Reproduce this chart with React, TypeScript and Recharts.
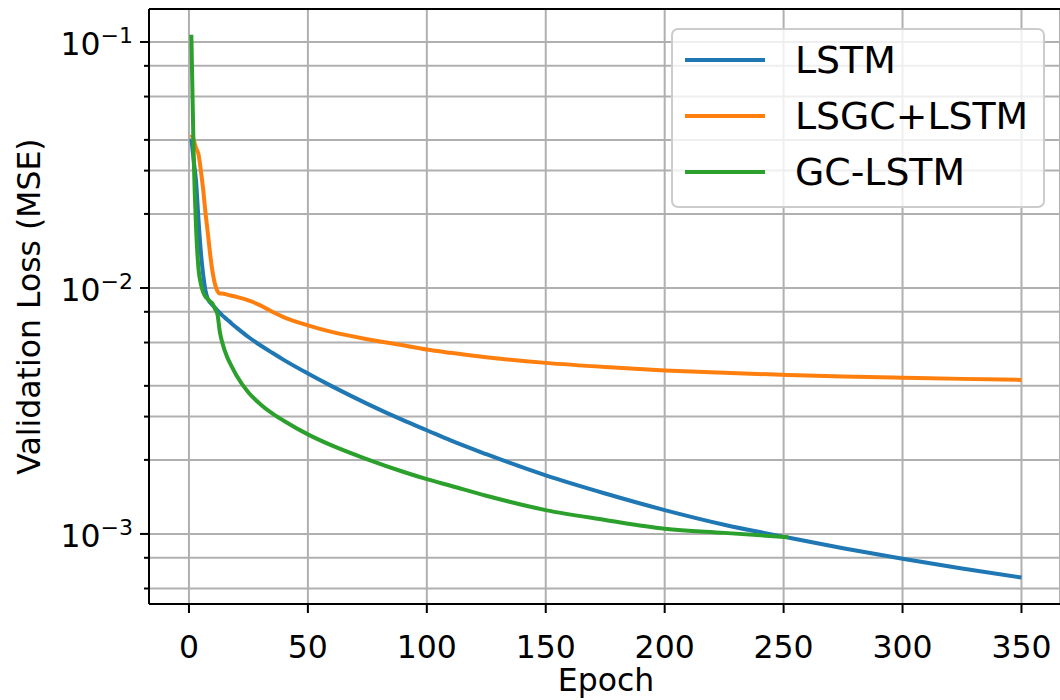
import { LineChart, Line, XAxis, YAxis, CartesianGrid, Legend, ReferenceLine } from "recharts";

const FONT = "DejaVu Sans";

// validation loss per epoch (log scale)
const epochs = [
  1, 2, 3, 4, 5, 6, 7, 8, 9, 10, 11, 12, 13, 14, 16, 18, 20, 25, 30, 35, 40, 50,
  60, 75, 90, 100, 110, 125, 150, 175, 200, 225, 252, 275, 300, 325, 350,
];
const lstmLoss = [
  0.0405, 0.033, 0.027, 0.019, 0.014, 0.0113, 0.0097, 0.009, 0.0087, 0.0085, 0.0083, 0.0081,
  0.00791, 0.00774, 0.00745, 0.00716, 0.0069, 0.00632, 0.00585, 0.00545, 0.00509, 0.00449,
  0.00399, 0.00338, 0.0029, 0.00264, 0.0024, 0.00211, 0.00173, 0.00146, 0.00125, 0.00109,
  0.000966, 0.000875, 0.000793, 0.000724, 0.000665,
];
const lsgcLoss = [
  0.042, 0.04, 0.037, 0.035, 0.03, 0.025, 0.02, 0.0165, 0.0135, 0.0115, 0.0103, 0.0097,
  0.0095, 0.0095, 0.0094, 0.0093, 0.0092, 0.0089, 0.0085, 0.008, 0.0076, 0.00705, 0.00663,
  0.00619, 0.00585, 0.00562, 0.00545, 0.00523, 0.00496, 0.00477, 0.00462, 0.00452, 0.00443,
  0.00437, 0.00432, 0.00427, 0.00423,
];
const gcLstmLoss = [
  0.107, 0.034, 0.0175, 0.012, 0.0104, 0.0096, 0.0092, 0.009, 0.0088, 0.0086, 0.0082, 0.0078,
  0.00661, 0.006, 0.00525, 0.00479, 0.00441, 0.00376, 0.00337, 0.00309, 0.00288, 0.00254,
  0.00229, 0.00201, 0.00179, 0.00167, 0.00157, 0.00143, 0.00125, 0.00114, 0.00105, 0.00101,
  0.00097, null, null, null, null,
];

const xTicks = [0, 50, 100, 150, 200, 250, 300, 350];
const yMajorTicks = [0.001, 0.01, 0.1];
const yMajorExponents = ["\u22123", "\u22122", "\u22121"];
const yMinorTicks = [
  0.0006, 0.0007, 0.0008, 0.0009,
  0.002, 0.003, 0.004, 0.005, 0.006, 0.007, 0.008, 0.009,
  0.02, 0.03, 0.04, 0.05, 0.06, 0.07, 0.08, 0.09,
];

const X_DOMAIN = [-16.8, 366.2];
const Y_DOMAIN = [0.000519, 0.1362];

const SERIES = [
  { key: "lstm", name: "LSTM", color: "#1f77b4" },
  { key: "lsgc", name: "LSGC+LSTM", color: "#ff7f0e" },
  { key: "gclstm", name: "GC-LSTM", color: "#2ca02c" },
];

const data = epochs.map((epoch, i) => ({
  epoch,
  lstm: lstmLoss[i],
  lsgc: lsgcLoss[i],
  gclstm: gcLstmLoss[i],
}));

function YTick({ x, y, payload }: any) {
  const idx = yMajorTicks.indexOf(payload.value);
  const major = idx >= 0;
  return (
    <g>
      <line x1={x - (major ? 9 : 5)} x2={x} y1={y} y2={y} stroke="#000" strokeWidth={2} />
      {major && (
        <text x={x - 16} y={y + 13} textAnchor="end" fontSize={31.5} fontFamily={FONT} fill="#000">
          10
          <tspan dy={-12} fontSize={22}>
            {yMajorExponents[idx]}
          </tspan>
        </text>
      )}
    </g>
  );
}

function XTick({ x, y, payload }: any) {
  return (
    <g>
      <line x1={x} x2={x} y1={y} y2={y + 9} stroke="#000" strokeWidth={2} />
      <text x={x} y={y + 54} textAnchor="middle" fontSize={31.5} fontFamily={FONT} fill="#000">
        {payload.value}
      </text>
    </g>
  );
}

function XLabel() {
  return (
    <text x={606} y={691} textAnchor="middle" fontSize={31.5} fontFamily={FONT} fill="#000">
      Epoch
    </text>
  );
}

function YLabel() {
  return (
    <text
      transform="translate(40, 306.5) rotate(-90)"
      textAnchor="middle"
      fontSize={31.5}
      fontFamily={FONT}
      fill="#000"
    >
      Validation Loss (MSE)
    </text>
  );
}

function LegendBox() {
  return (
    <div
      style={{
        width: 374,
        height: 180,
        boxSizing: "border-box",
        border: "2px solid #cccccc",
        borderRadius: 7,
        background: "rgba(255,255,255,0.8)",
        position: "relative",
        fontFamily: FONT,
      }}
    >
      {SERIES.map((s, i) => (
        <div
          key={s.key}
          style={{
            position: "absolute",
            left: 0,
            top: 2 + i * 56,
            height: 56,
            display: "flex",
            alignItems: "center",
          }}
        >
          <div style={{ marginLeft: 12, width: 80, height: 4, background: s.color }} />
          <span style={{ marginLeft: 30, fontSize: 37.8, lineHeight: "56px", color: "#000", whiteSpace: "nowrap" }}>
            {s.name}
          </span>
        </div>
      ))}
    </div>
  );
}

export default function App() {
  return (
    <div style={{ position: "absolute", left: 0, top: 0, width: 1060, height: 700, background: "#fff" }}>
      <LineChart width={1060} height={700} data={data} margin={{ top: 9, right: 0, bottom: 0, left: 0 }}>
        <CartesianGrid stroke="#b0b0b0" strokeWidth={2} />
        <XAxis
          type="number"
          dataKey="epoch"
          domain={X_DOMAIN}
          ticks={xTicks}
          allowDataOverflow
          height={96}
          tickSize={0}
          tickMargin={0}
          tick={<XTick />}
          axisLine={{ stroke: "#000", strokeWidth: 2 }}
          label={<XLabel />}
        />
        <YAxis
          type="number"
          scale="log"
          domain={Y_DOMAIN}
          ticks={[...yMinorTicks, ...yMajorTicks].sort((a, b) => a - b)}
          allowDataOverflow
          width={149}
          tickSize={0}
          tickMargin={0}
          tick={<YTick />}
          axisLine={{ stroke: "#000", strokeWidth: 2 }}
          label={<YLabel />}
        />
        <ReferenceLine y={Y_DOMAIN[1]} stroke="#000" strokeWidth={2} />
        {SERIES.map((s) => (
          <Line
            key={s.key}
            dataKey={s.key}
            name={s.name}
            type="monotone"
            stroke={s.color}
            strokeWidth={4}
            dot={false}
            activeDot={false}
            connectNulls={false}
            isAnimationActive={false}
          />
        ))}
        <Legend
          layout="vertical"
          align="center"
          verticalAlign="middle"
          wrapperStyle={{ left: 671, top: 28, width: 374, height: 180 }}
          content={() => <LegendBox />}
        />
      </LineChart>
    </div>
  );
}
